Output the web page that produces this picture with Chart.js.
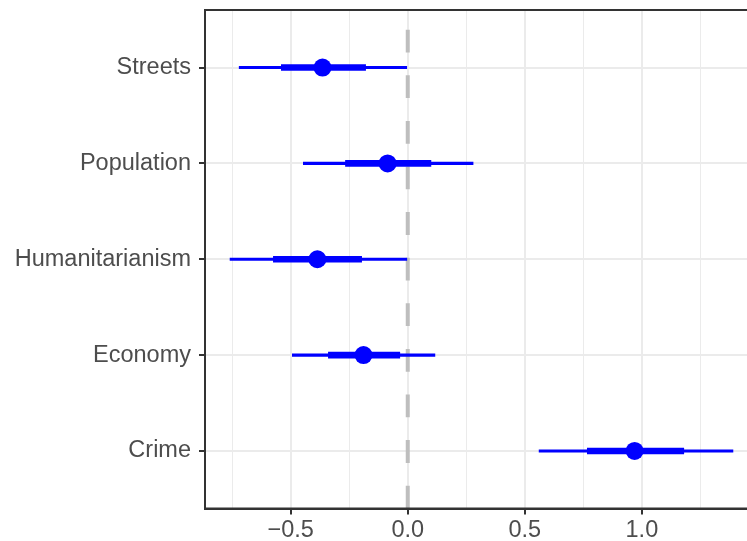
<!DOCTYPE html>
<html>
<head>
<meta charset="utf-8">
<script src="https://cdn.jsdelivr.net/npm/chart.js@4/dist/chart.umd.min.js"></script>
<style>
  html, body { margin: 0; padding: 0; background: #fff; overflow: hidden; }
  #wrap { width: 770px; height: 541px; }
</style>
</head>
<body>
<div id="wrap"><canvas id="chart" width="770" height="541"></canvas></div>
<script>
// categories listed bottom to top (ggplot order)
const categories = ['Crime', 'Economy', 'Humanitarianism', 'Population', 'Streets'];
const estimates = [0.969, -0.189, -0.386, -0.086, -0.364];
const ci95Low  = [0.561, -0.493, -0.759, -0.446, -0.720];
const ci95High = [1.389,  0.116, -0.004,  0.279,  0.000];
const ci68Low  = [0.767, -0.339, -0.574, -0.266, -0.540];
const ci68High = [1.179, -0.034, -0.197,  0.099, -0.180];
const xTicks = [-0.75, -0.5, -0.25, 0, 0.25, 0.5, 0.75, 1.0, 1.25];
const xMajor = [-0.5, 0, 0.5, 1.0];

const yPos = categories.map((c, i) => i + 1);
const BLUE = '#0000FF';
const FONT = { family: 'Liberation Sans, Arial, sans-serif', size: 23.5 };

const fmt = v => (v < 0 ? '\u2212' : '') + Math.abs(v).toFixed(1);
const isMajor = v => xMajor.some(m => Math.abs(m - v) < 1e-6);

// full panel border (theme_bw)
const panelBorder = {
  id: 'panelBorder',
  afterDraw(chart) {
    const { ctx, chartArea: a } = chart;
    ctx.save();
    ctx.strokeStyle = '#333333';
    ctx.lineWidth = 2;
    ctx.strokeRect(a.left, a.top, a.right - a.left, a.bottom - a.top);
    ctx.restore();
  }
};

const ctx = document.getElementById('chart').getContext('2d');
new Chart(ctx, {
  data: {
    datasets: [
      {
        type: 'line',
        label: 'zero',
        data: [{ x: 0, y: 0.4 }, { x: 0, y: 5.6 }],
        borderColor: '#BEBEBE',
        borderWidth: 4,
        borderDash: [22.8, 22.8],
        pointRadius: 0,
        order: 4
      },
      {
        type: 'bar',
        label: '95%',
        indexAxis: 'y',
        data: yPos.map((y, i) => ({ y: y, x: [ci95Low[i], ci95High[i]] })),
        backgroundColor: BLUE,
        borderWidth: 0,
        barThickness: 2.5,
        grouped: false,
        order: 3
      },
      {
        type: 'bar',
        label: '68%',
        indexAxis: 'y',
        data: yPos.map((y, i) => ({ y: y, x: [ci68Low[i], ci68High[i]] })),
        backgroundColor: BLUE,
        borderWidth: 0,
        barThickness: 6,
        grouped: false,
        order: 2
      },
      {
        type: 'scatter',
        label: 'estimate',
        data: yPos.map((y, i) => ({ x: estimates[i], y: y })),
        backgroundColor: BLUE,
        borderWidth: 0,
        pointRadius: 9,
        order: 1
      }
    ]
  },
  options: {
    responsive: false,
    animation: false,
    layout: { padding: { top: 10, right: 12, left: 0, bottom: 0 } },
    plugins: {
      legend: { display: false },
      tooltip: { enabled: false }
    },
    scales: {
      x: {
        type: 'linear',
        min: -0.866,
        max: 1.496,
        offset: false,
        afterBuildTicks: s => { s.ticks = xTicks.map(v => ({ value: v })); },
        afterFit: s => { s.height = 32.5; s.paddingLeft = 0; s.paddingRight = 0; },
        ticks: {
          autoSkip: false,
          maxRotation: 0,
          padding: 2,
          color: '#4D4D4D',
          font: FONT,
          callback: v => isMajor(v) ? fmt(v) : ''
        },
        grid: {
          offset: false,
          color: '#EBEBEB',
          lineWidth: c => (c.tick && isMajor(c.tick.value)) ? 2 : 1,
          tickColor: c => (c.tick && isMajor(c.tick.value)) ? '#333333' : 'rgba(0,0,0,0)',
          tickLength: 6,
          tickWidth: 2
        },
        border: { display: true, color: '#333333', width: 2 }
      },
      y: {
        type: 'linear',
        min: 0.4,
        max: 5.6,
        offset: false,
        afterBuildTicks: s => { s.ticks = yPos.map(v => ({ value: v })); },
        afterFit: s => { s.width = 205; s.paddingTop = 0; s.paddingBottom = 0; },
        ticks: {
          autoSkip: false,
          padding: 8,
          color: '#4D4D4D',
          font: FONT,
          callback: v => categories[Math.round(v) - 1] || ''
        },
        grid: {
          offset: false,
          color: '#EBEBEB',
          lineWidth: 2,
          tickColor: '#333333',
          tickLength: 6,
          tickWidth: 2
        },
        border: { display: true, color: '#333333', width: 2 }
      }
    }
  },
  plugins: [panelBorder]
});
</script>
</body>
</html>
